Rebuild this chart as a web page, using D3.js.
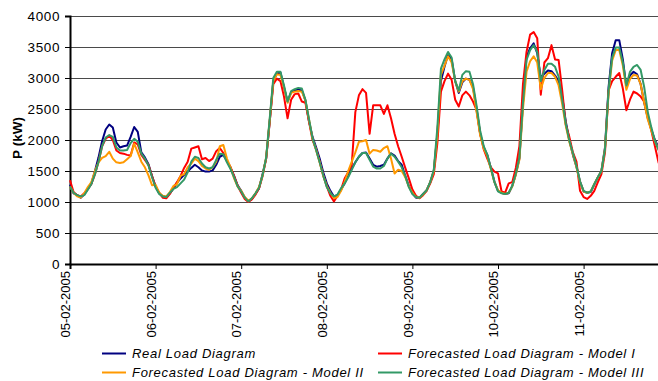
<!DOCTYPE html>
<html>
<head>
<meta charset="utf-8">
<script src="https://cdn.jsdelivr.net/npm/d3@7"></script>
<style>
  body { margin: 0; background: #fff; }
  svg { display: block; font-family: Arial, 'Liberation Sans', sans-serif; }
</style>
</head>
<body>
<div id="chart"></div>
<script>
// hourly load, 05-02-2005 00:00 onwards (kW)
var dayLabels = ['05-02-2005', '06-02-2005', '07-02-2005', '08-02-2005', '09-02-2005', '10-02-2005', '11-02-2005'];
var yTicks = [0, 500, 1000, 1500, 2000, 2500, 3000, 3500, 4000];

var realLoad = [
  1280,1140,1110,1070,1120,1210,1300,1500,1720,1980,2170,2250,2200,1960,1880,1900,1910,2050,2210,2130,1800,1720,1610,1420,
  1250,1140,1090,1075,1140,1220,1310,1380,1440,1490,1550,1600,1560,1510,1490,1490,1510,1600,1730,1760,1660,1560,1420,1270,
  1180,1070,1010,1050,1130,1220,1450,1700,2300,2950,3070,3090,2850,2620,2770,2800,2810,2800,2640,2300,2050,1880,1700,1480,
  1300,1180,1090,1110,1200,1300,1420,1540,1640,1730,1790,1800,1700,1600,1570,1580,1600,1700,1785,1750,1660,1600,1420,1260,
  1140,1070,1070,1130,1190,1320,1500,2100,2950,3180,3380,3300,2950,2760,2930,2990,2970,2850,2500,2100,1880,1760,1550,1330,
  1180,1150,1130,1140,1260,1450,1700,2600,3340,3480,3560,3400,3000,3070,3120,3110,3040,2950,2700,2300,2000,1760,1570,1330,
  1170,1150,1160,1280,1400,1500,1880,2850,3400,3610,3610,3300,2850,3040,3100,3060,2900,2600,2350,2170,2000,1880,1760,1680
];
var modelI = [
  1350,1160,1110,1090,1140,1210,1290,1450,1650,1900,2020,2070,2000,1830,1790,1780,1760,1750,1960,1930,1760,1680,1600,1420,
  1250,1150,1070,1060,1130,1230,1320,1420,1550,1650,1860,1880,1900,1690,1710,1660,1700,1820,1870,1790,1660,1560,1420,1260,
  1150,1050,1000,1040,1120,1220,1420,1700,2300,2900,2990,2950,2700,2350,2650,2740,2750,2620,2600,2300,2000,1850,1650,1430,
  1250,1100,1010,1100,1200,1380,1480,1600,2450,2720,2820,2760,2100,2560,2560,2560,2420,2560,2350,2100,1900,1730,1550,1380,
  1200,1100,1060,1110,1180,1300,1450,1950,2780,2950,3070,2970,2650,2540,2720,2780,2720,2620,2480,2100,1850,1700,1560,1490,
  1460,1170,1150,1300,1320,1550,1900,2900,3420,3700,3740,3640,2730,3250,3320,3530,3300,3290,2800,2250,2050,1800,1650,1180,
  1080,1050,1100,1180,1320,1450,1800,2800,2950,3020,3080,2830,2480,2650,2780,2750,2700,2620,2400,2150,1900,1640,1500,1400
];
var modelII = [
  1250,1150,1090,1070,1140,1240,1320,1500,1640,1710,1740,1810,1700,1640,1630,1640,1690,1740,1940,1800,1650,1560,1430,1270,
  1280,1150,1100,1090,1160,1260,1290,1420,1450,1560,1620,1700,1660,1580,1540,1520,1560,1650,1900,1920,1700,1560,1380,1250,
  1180,1080,1020,1060,1140,1240,1430,1720,2320,2950,3060,3050,2850,2600,2760,2780,2790,2780,2640,2330,2020,1840,1640,1420,
  1260,1150,1060,1080,1180,1320,1500,1650,1800,1970,1980,2000,1780,1840,1830,1810,1870,1900,1700,1460,1520,1500,1400,1250,
  1150,1080,1070,1120,1190,1320,1500,2100,3050,3200,3350,3250,2950,2780,2950,2990,2970,2820,2450,2080,1860,1740,1530,1320,
  1190,1150,1130,1150,1250,1440,1680,2500,3100,3270,3350,3250,2820,3000,3080,3080,3020,2880,2580,2230,1970,1770,1560,1320,
  1170,1150,1170,1290,1400,1500,1860,2750,3280,3450,3450,3200,2810,2980,3050,3040,2900,2600,2330,2150,1980,1850,1750,1660
];
var modelIII = [
  1250,1150,1110,1090,1110,1200,1290,1450,1650,1900,2040,2080,2050,1880,1830,1830,1840,1950,2020,1970,1780,1700,1590,1400,
  1230,1130,1090,1080,1150,1210,1240,1300,1360,1480,1650,1730,1710,1620,1560,1540,1560,1680,1780,1770,1640,1530,1400,1250,
  1170,1070,1010,1060,1140,1230,1430,1720,2350,3000,3100,3100,2880,2620,2790,2820,2840,2830,2650,2340,2030,1840,1640,1430,
  1240,1140,1090,1120,1220,1300,1400,1520,1640,1730,1790,1790,1680,1570,1540,1540,1580,1700,1780,1730,1650,1560,1420,1240,
  1130,1080,1070,1130,1190,1320,1520,2200,3150,3300,3420,3330,2950,2800,3050,3110,3100,2900,2550,2150,1900,1760,1550,1320,
  1170,1140,1130,1150,1260,1460,1720,2600,3290,3450,3530,3420,2950,3130,3230,3230,3180,3020,2650,2260,1990,1790,1580,1330,
  1180,1150,1170,1290,1400,1500,1850,2800,3330,3490,3490,3250,2880,3100,3180,3210,3130,2850,2450,2200,1980,1840,1740,1660
];

var series = [
  { name: 'Real Load Diagram', values: realLoad, color: '#000080' },
  { name: 'Forecasted Load Diagram - Model I', values: modelI, color: '#ff0000' },
  { name: 'Forecasted Load Diagram - Model II', values: modelII, color: '#ff9900' },
  { name: 'Forecasted Load Diagram - Model III', values: modelIII, color: '#339966' }
];

var width = 658, height = 381;
var plotLeft = 70, plotTop = 16, plotBottom = 264;
var dayWidth = 85.6;

var x = d3.scaleLinear()
    .domain([0, 24 * dayLabels.length])
    .range([plotLeft, plotLeft + dayWidth * dayLabels.length]);

var y = d3.scaleLinear()
    .domain([0, 4000])
    .range([plotBottom, plotTop]);

var svg = d3.select('#chart').append('svg')
    .attr('width', width)
    .attr('height', height);

// gridlines
svg.append('g')
    .selectAll('line')
    .data(yTicks.slice(1))
    .enter()
    .append('line')
    .attr('x1', plotLeft)
    .attr('x2', width)
    .attr('y1', function(d) { return Math.round(y(d)) + 0.5; })
    .attr('y2', function(d) { return Math.round(y(d)) + 0.5; })
    .attr('stroke', '#4a4a4a')
    .attr('stroke-width', 1);

// y axis
var yAxis = svg.append('g')
    .attr('transform', 'translate(' + plotLeft + ',0)')
    .call(d3.axisLeft(y).tickValues(yTicks).tickSize(5).tickPadding(5).tickFormat(d3.format('d')));
yAxis.select('.domain').attr('stroke', '#000').attr('stroke-width', 2);
yAxis.selectAll('.tick line').attr('stroke', '#000');
yAxis.selectAll('.tick text')
    .attr('font-size', 13.5)
    .attr('letter-spacing', 0.6)
    .attr('font-family', 'Arial, Liberation Sans, sans-serif')
    .attr('fill', '#000');

// x axis
var xAxis = svg.append('g')
    .attr('transform', 'translate(0,' + plotBottom + ')')
    .call(d3.axisBottom(x)
        .tickValues(d3.range(0, dayLabels.length).map(function(i) { return i * 24; }))
        .tickSize(5)
        .tickFormat(function(d) { return dayLabels[d / 24]; }));
xAxis.select('.domain').attr('stroke', '#000').attr('stroke-width', 2);
xAxis.selectAll('.tick line').attr('stroke', '#000');
xAxis.selectAll('.tick text')
    .attr('font-size', 13)
    .attr('font-family', 'Arial, Liberation Sans, sans-serif')
    .attr('fill', '#000')
    .attr('text-anchor', 'end')
    .attr('transform', 'rotate(-90)')
    .attr('x', -7)
    .attr('y', 0)
    .attr('dy', '-0.02em');

// y title
svg.append('text')
    .attr('transform', 'translate(21.5,138) rotate(-90)')
    .attr('text-anchor', 'middle')
    .attr('font-size', 13.5)
    .attr('font-weight', 'bold')
    .text('P (kW)');

// lines
var line = d3.line()
    .x(function(d, i) { return x(i); })
    .y(function(d) { return y(d); });

svg.append('g')
    .selectAll('path')
    .data(series)
    .enter()
    .append('path')
    .attr('fill', 'none')
    .attr('stroke', function(d) { return d.color; })
    .attr('stroke-width', 2)
    .attr('stroke-linejoin', 'round')
    .attr('d', function(d) { return line(d.values); });

// legend
var legendPos = [[102, 353.5], [378, 353.5], [102, 372.5], [378, 372.5]];
var legend = svg.append('g')
    .selectAll('g')
    .data(series)
    .enter()
    .append('g')
    .attr('transform', function(d, i) { return 'translate(' + legendPos[i][0] + ',' + legendPos[i][1] + ')'; });

legend.append('line')
    .attr('x1', 0)
    .attr('x2', 24)
    .attr('stroke', function(d) { return d.color; })
    .attr('stroke-width', 2);

legend.append('text')
    .attr('x', 30)
    .attr('dy', '0.35em')
    .attr('font-size', 13)
    .attr('letter-spacing', 0.7)
    .attr('font-style', 'italic')
    .text(function(d) { return d.name; });
</script>
</body>
</html>
